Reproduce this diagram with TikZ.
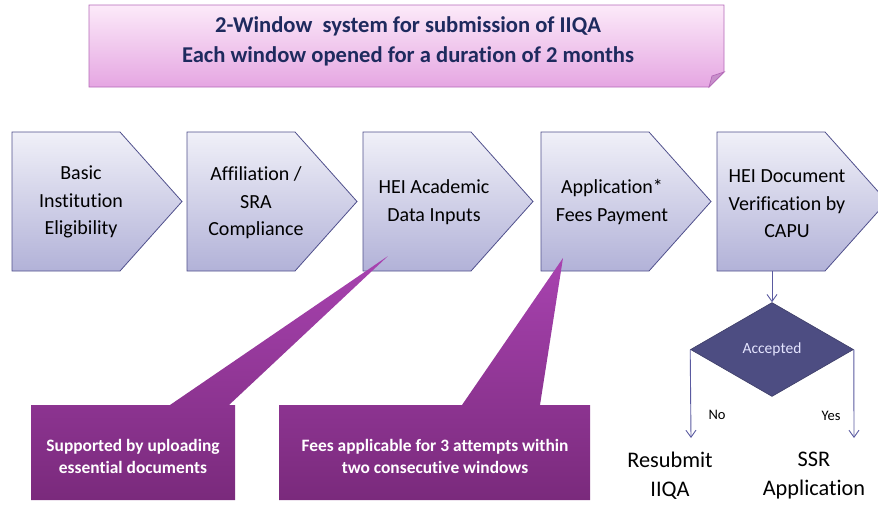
\documentclass[tikz,border=0pt]{standalone}
\usepackage{fontspec}
\setmainfont{Carlito}[Ligatures={NoCommon}]
\usetikzlibrary{shapes.geometric,arrows.meta}
\definecolor{chevtop}{HTML}{F0F0F8}
\definecolor{chevbot}{HTML}{B2B2D8}
\definecolor{chevline}{HTML}{50508C}
\definecolor{bantop}{HTML}{FCEAF9}
\definecolor{banbot}{HTML}{E5A6E2}
\definecolor{banline}{HTML}{B46AB8}
\definecolor{bantext}{HTML}{1E2A5E}
\definecolor{caltop}{HTML}{A843B0}
\definecolor{calbot}{HTML}{7A2A7C}
\definecolor{diafill}{HTML}{4D4D82}
\definecolor{arrcol}{HTML}{5A5AA0}
\tikzset{
  chev/.style={draw=chevline, line width=0.8pt, top color=chevtop, bottom color=chevbot},
  chevtext/.style={align=center, inner sep=0pt, font=\fontsize{20}{27.5}\selectfont},
  callout/.style={top color=caltop, bottom color=calbot, draw=none},
  caltext/.style={align=center, inner sep=0pt, text=white, font=\bfseries\fontsize{17.4}{22}\selectfont},
  arr/.style={draw=arrcol, line width=0.9pt, -{Straight Barb[length=7pt,width=10pt]}},
  small/.style={inner sep=0pt, font=\fontsize{14.5}{16}\selectfont},
  result/.style={align=center, inner sep=0pt, font=\fontsize{22.3}{29}\selectfont}
}
\begin{document}
\begin{tikzpicture}[x=1pt,y=-1pt]
\useasboundingbox (0,0) rectangle (878,506);
% banner
\path[draw=banline, line width=0.9pt, top color=bantop, bottom color=banbot]
  (89,5) -- (724,5) -- (724,72) -- (709,87) -- (89,87) -- cycle;
\path[draw=banline, line width=0.7pt, fill=banline!75] (724,72) -- (712,76) -- (709,87) -- cycle;
\node[align=center, inner sep=0pt, text=bantext, font=\bfseries\fontsize{22.6}{30}\selectfont] (title) at (408,41)
  {2-Window\ \ system for submission of IIQA\\Each window opened for a duration of 2 months};
% chevrons
\foreach \l/\n in {12/1,187/2,363/3,541/4,717/5}{
  \path[chev] (\l,132) -- (\l+108,132) -- (\l+170,201.5) -- (\l+108,271) -- (\l,271) -- cycle;
}
\node[chevtext] (c1) at (81,202) {Basic\\Institution\\Eligibility};
\node[chevtext] (c2) at (256,203) {Affiliation /\\SRA\\Compliance};
\node[chevtext] (c3) at (434,202) {HEI Academic\\Data Inputs};
\node[chevtext] (c4) at (612,202) {Application*\\Fees Payment};
\node[chevtext] (c5) at (787,204) {HEI Document\\Verification by\\CAPU};
% callouts
\path[callout] (31,405) -- (170,405) -- (388,256) -- (229,405) -- (235,405) -- (235,500) -- (31,500) -- cycle;
\path[callout] (279,405) -- (462,405) -- (563,258) -- (540,405) -- (590,405) -- (590,500) -- (279,500) -- cycle;
\node[caltext] (k1) at (133,456) {Supported by uploading\\essential documents};
\node[caltext] (k2) at (435,456) {Fees applicable for 3 attempts within\\two consecutive windows};
% decision
\coordinate (c5b) at (772,271);
\node[diamond, draw=diafill!80!black, fill=diafill, line width=0.6pt, minimum width=163pt, minimum height=94pt, inner sep=0pt,
  text=white!90!blue, font=\fontsize{15.5}{17}\selectfont] (dia) at (772,349.5) {Accepted};
\draw[arr] (c5b) -- (dia.north);
\coordinate (noend) at (691,438);
\coordinate (yesend) at (854,438);
\draw[arr] (dia.west) -- (noend);
\draw[arr] (dia.east) -- (yesend);
\node[small] (nolab) at (717,415) {No};
\node[small] (yeslab) at (831,416) {Yes};
\node[result] (resub) at (670,476) {Resubmit\\IIQA};
\node[result] (ssr) at (814,476) {SSR\\Application};
\end{tikzpicture}
\end{document}
